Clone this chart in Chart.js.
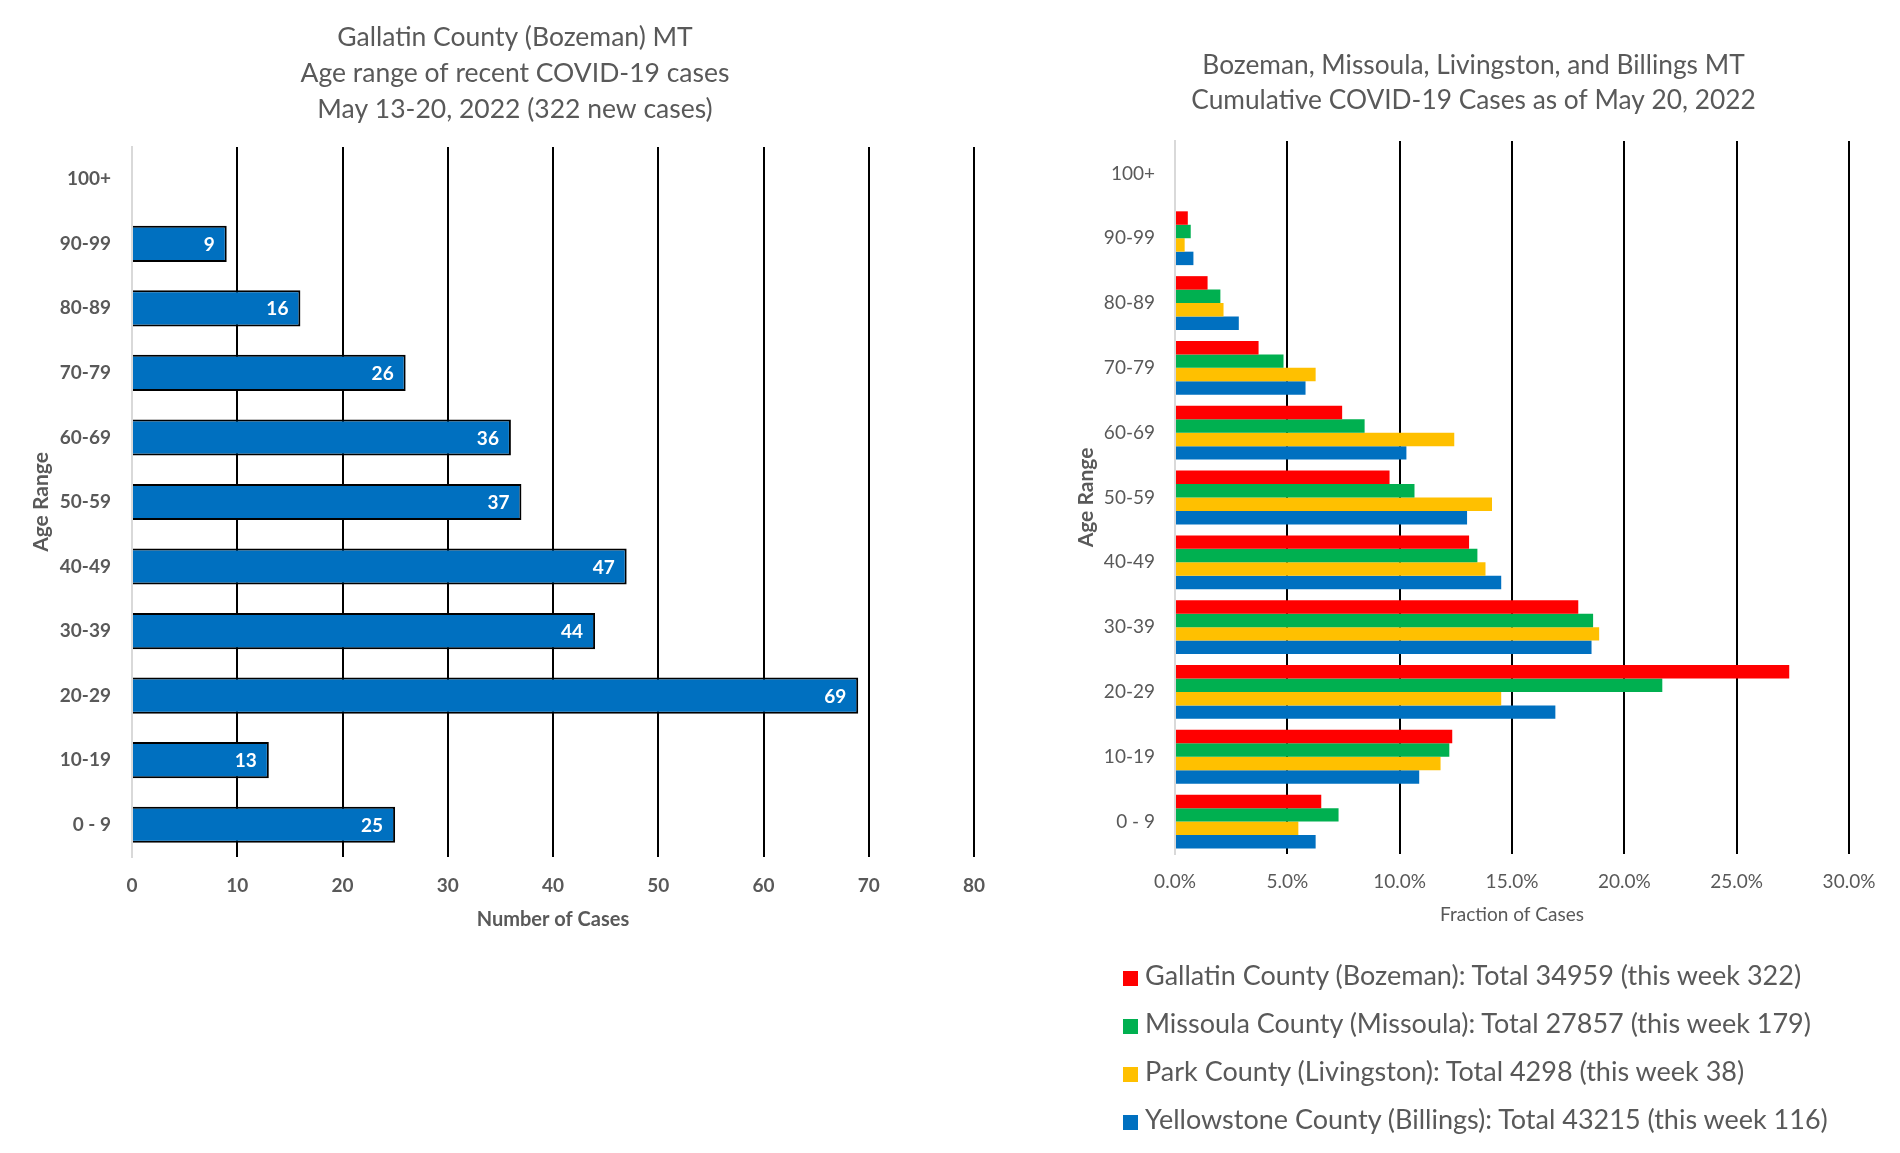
<!DOCTYPE html>
<html>
<head>
<meta charset="utf-8">
<script src="https://cdn.jsdelivr.net/npm/chart.js@4.4.1/dist/chart.umd.min.js"></script>
<style>
  body { margin: 0; background: #fff; width: 1900px; height: 1153px; overflow: hidden; position: relative; font-family: Lato, sans-serif; }
  #leftBox { position: absolute; left: 0; top: 0; width: 1000px; height: 960px; }
  #rightBox { position: absolute; left: 1040px; top: 0; width: 860px; height: 960px; }
  #legend { position: absolute; left: 1123px; top: 958px; color: #595959; font-size: 27px; }
  #legend div { height: 48px; line-height: 34px; white-space: nowrap; }
  #legend span { display: inline-block; width: 15px; height: 15px; margin-right: 7px; vertical-align: -1px; }
</style>
</head>
<body>
<div id="leftBox"><canvas id="ageChart"></canvas></div>
<div id="rightBox"><canvas id="cityChart"></canvas></div>
<div id="legend"></div>
<script>
const ageLabels = ['100+', '90-99', '80-89', '70-79', '60-69', '50-59', '40-49', '30-39', '20-29', '10-19', '0 - 9'];

// Gallatin County, new cases May 13-20
const weekCases = [0, 9, 16, 26, 36, 37, 47, 44, 69, 13, 25];

// cumulative fraction of cases (%)
const gallatinPct = [0, 0.57, 1.45, 3.72, 7.44, 9.55, 13.09, 17.95, 27.34, 12.34, 6.51];
const missoulaPct = [0, 0.70, 2.02, 4.83, 8.44, 10.66, 13.46, 18.61, 21.69, 12.21, 7.28];
const parkPct = [0, 0.43, 2.16, 6.26, 12.43, 14.11, 13.82, 18.88, 14.52, 11.82, 5.49];
const yellowstonePct = [0, 0.82, 2.84, 5.81, 10.30, 13.00, 14.52, 18.54, 16.93, 10.87, 6.26];

const seriesNames = [
  'Gallatin County (Bozeman): Total 34959 (this week 322)',
  'Missoula County (Missoula): Total 27857 (this week 179)',
  'Park County (Livingston): Total 4298 (this week 38)',
  'Yellowstone County (Billings): Total 43215 (this week 116)'
];
const seriesColors = ['#FF0000', '#00B050', '#FFC000', '#0070C0'];

const leftTitle = ['Gallatin County (Bozeman) MT', 'Age range of recent COVID-19 cases', 'May 13-20, 2022 (322 new cases)'];
const rightTitle = ['Bozeman, Missoula, Livingston, and Billings MT', 'Cumulative COVID-19 Cases as of May 20, 2022'];

const grey = '#595959';
const fontName = 'Lato, sans-serif';
Chart.defaults.font.family = fontName;
Chart.defaults.color = grey;

function gridColor(c) {
  return c.tick && c.tick.value === 0 ? '#d9d9d9' : '#000000';
}

// white value labels inside the end of each bar
const barValues = {
  id: 'barValues',
  afterDatasetsDraw(chart) {
    const ctx = chart.ctx;
    const meta = chart.getDatasetMeta(0);
    ctx.save();
    ctx.font = 'bold 19px ' + fontName;
    ctx.fillStyle = '#ffffff';
    ctx.textAlign = 'right';
    ctx.textBaseline = 'middle';
    meta.data.forEach(function(bar, i) {
      const v = chart.data.datasets[0].data[i];
      if (v > 0) {
        ctx.fillText(String(v), bar.x - 12, bar.y + 1);
      }
    });
    ctx.restore();
  }
};

const ageChart = new Chart(document.getElementById('ageChart'), {
  type: 'bar',
  data: {
    labels: ageLabels,
    datasets: [{
      label: 'Cases',
      data: weekCases,
      backgroundColor: '#0070C0',
      borderColor: '#000000',
      borderWidth: 2,
      borderSkipped: 'start',
      categoryPercentage: 1,
      barPercentage: 0.56
    }]
  },
  options: {
    indexAxis: 'y',
    responsive: true,
    maintainAspectRatio: false,
    animation: false,
    layout: { padding: { left: 56, right: 26, top: 0, bottom: 0 } },
    plugins: {
      legend: { display: false },
      tooltip: { enabled: false },
      title: {
        display: true,
        text: leftTitle,
        color: grey,
        font: { size: 26.5, weight: 'normal', lineHeight: 36 / 26.5 },
        padding: { top: 19, bottom: 20 }
      }
    },
    scales: {
      x: {
        min: 0, max: 80,
        ticks: { stepSize: 10, padding: 17, color: grey, font: { size: 19, weight: 'bold' } },
        grid: { color: gridColor, lineWidth: 2, drawTicks: false },
        border: { display: false },
        title: { display: true, text: 'Number of Cases', color: grey, font: { size: 20, weight: 'bold' }, padding: { top: 0, bottom: 28 } },
        afterFit(s) { s.height = 103; s.paddingLeft = 0; s.paddingRight = 0; }
      },
      y: {
        ticks: { padding: 21, color: grey, font: { size: 19, weight: 'bold' } },
        grid: { display: false, drawTicks: false },
        border: { display: true, color: '#d9d9d9', width: 2 },
        title: { display: true, text: 'Age Range', color: grey, font: { size: 21, weight: 'bold' }, padding: { top: -27.6, bottom: 0 } },
        afterFit(s) { s.width = 76; s.paddingTop = 0; s.paddingBottom = 0; }
      }
    }
  },
  plugins: [barValues]
});

const cityData = [gallatinPct, missoulaPct, parkPct, yellowstonePct];

const cityChart = new Chart(document.getElementById('cityChart'), {
  type: 'bar',
  data: {
    labels: ageLabels,
    datasets: cityData.map(function(d, i) {
      return {
        label: seriesNames[i],
        data: d,
        backgroundColor: seriesColors[i],
        borderWidth: 0,
        categoryPercentage: 0.83,
        barPercentage: 1
      };
    })
  },
  options: {
    indexAxis: 'y',
    responsive: true,
    maintainAspectRatio: false,
    animation: false,
    layout: { padding: { left: 58, right: 51, top: 0, bottom: 0 } },
    plugins: {
      legend: { display: false },
      tooltip: { enabled: false },
      title: {
        display: true,
        text: rightTitle,
        color: grey,
        font: { size: 26.3, weight: 'normal', lineHeight: 35 / 26.3 },
        padding: { top: 48, bottom: 23 }
      }
    },
    scales: {
      x: {
        min: 0, max: 30,
        ticks: { stepSize: 5, padding: 16, color: grey, font: { size: 19 }, callback: function(v) { return v.toFixed(1) + '%'; } },
        grid: { color: gridColor, lineWidth: 2, drawTicks: false },
        border: { display: false },
        title: { display: true, text: 'Fraction of Cases', color: grey, font: { size: 19 }, padding: { top: 0, bottom: 34 } },
        afterFit(s) { s.height = 106; s.paddingLeft = 0; s.paddingRight = 0; }
      },
      y: {
        ticks: { padding: 20, color: grey, font: { size: 19 } },
        grid: { display: false, drawTicks: false },
        border: { display: true, color: '#d9d9d9', width: 2 },
        title: { display: true, text: 'Age Range', color: grey, font: { size: 21, weight: 'bold' }, padding: { top: -24.6, bottom: 0 } },
        afterFit(s) { s.width = 77; s.paddingTop = 0; s.paddingBottom = 0; }
      }
    }
  }
});

// legend below the right chart, built from the chart's datasets
const legendBox = document.getElementById('legend');
cityChart.data.datasets.forEach(function(ds) {
  const row = document.createElement('div');
  const sw = document.createElement('span');
  sw.style.background = ds.backgroundColor;
  row.appendChild(sw);
  row.appendChild(document.createTextNode(ds.label));
  legendBox.appendChild(row);
});
</script>
</body>
</html>
